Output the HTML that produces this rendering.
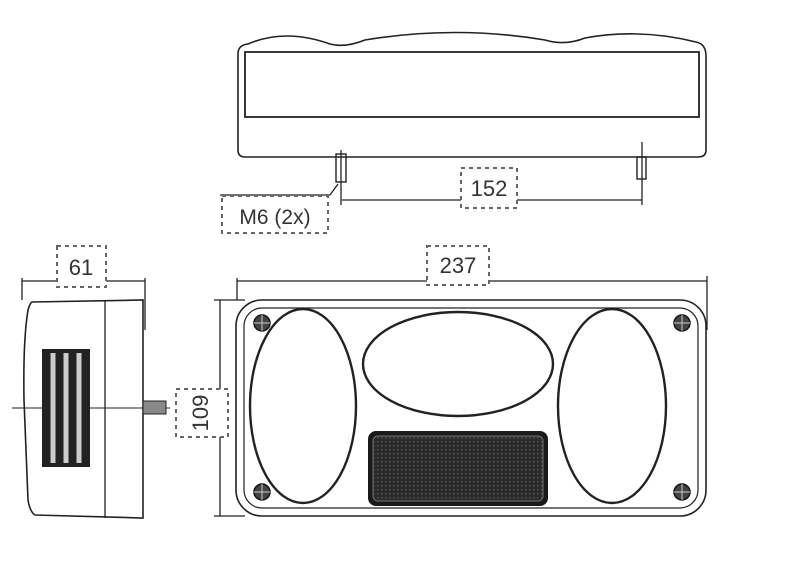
<!DOCTYPE html>
<html><head><style>
html,body{margin:0;padding:0;background:#fff;}
svg{display:block;}
text{font-family:"Liberation Sans",sans-serif;fill:#333;}
</style></head><body>
<svg width="800" height="581" viewBox="0 0 800 581" xmlns="http://www.w3.org/2000/svg">
<defs>
<pattern id="dots" width="4" height="4" patternUnits="userSpaceOnUse">
<rect width="4" height="4" fill="#2a2a2a"/><rect x="1" y="1" width="1.5" height="1.5" fill="#555"/>
</pattern>
</defs>
<g fill="none" stroke="#222" stroke-width="1.3">
<!-- TOP VIEW -->
<path d="M238 150 L238 54 Q238 45 248 44 Q285 28 330 44 Q345 48 365 40 Q455 25 545 40 Q565 46 585 38 Q640 28 696 42 Q706 44 706 56 L706 150 Q706 157 698 157 L245 157 Q238 157 238 150 Z" stroke-width="1.6"/>
<rect x="245" y="52" width="454" height="65" stroke-width="1.8"/>
<rect x="336" y="154" width="10" height="28" stroke-width="1.4"/>
<line x1="341" y1="150" x2="341" y2="205"/>
<rect x="637" y="157" width="9" height="22" stroke-width="1.4"/>
<line x1="642" y1="142" x2="642" y2="205"/>
<line x1="342" y1="200" x2="642" y2="200"/>
<path d="M338 184 L330 195 L220 195"/>
<!-- SIDE VIEW -->
<line x1="22" y1="281" x2="145" y2="281"/>
<line x1="22" y1="278" x2="22" y2="300"/>
<line x1="145" y1="278" x2="145" y2="330"/>
<path d="M32 302 L143 300 L143 518 L35 515 Q30 512 28 500 L24 400 Q23 340 28 310 Q30 303 32 302 Z" stroke-width="1.6"/>
<line x1="105" y1="300" x2="105" y2="518"/>
<line x1="12" y1="408" x2="170" y2="408" stroke-width="1"/>
<rect x="143" y="401" width="23" height="13" fill="#888" stroke-width="1"/>
<!-- FRONT VIEW -->
<line x1="237" y1="281" x2="707" y2="281"/>
<line x1="237" y1="278" x2="237" y2="300"/>
<line x1="707" y1="276" x2="707" y2="330"/>
<line x1="220" y1="300" x2="220" y2="516"/>
<line x1="214" y1="300" x2="245" y2="300"/>
<line x1="214" y1="516" x2="245" y2="516"/>
<rect x="236" y="300" width="470" height="216" rx="26" stroke-width="1.6"/>
<rect x="244" y="308" width="454" height="200" rx="18" stroke-width="1.2"/>
<ellipse cx="303" cy="406" rx="53" ry="97" stroke-width="2.4"/>
<ellipse cx="612" cy="406" rx="54" ry="97" stroke-width="2.4"/>
<ellipse cx="458" cy="364" rx="95" ry="52" stroke-width="2.4"/>
</g>
<rect x="42" y="349" width="48" height="118" fill="#222"/>
<g stroke="#ccc" stroke-width="5"><line x1="53" y1="353" x2="53" y2="463"/><line x1="66" y1="353" x2="66" y2="463"/><line x1="79" y1="353" x2="79" y2="463"/></g>
<rect x="368" y="431" width="180" height="75" rx="8" fill="#1a1a1a"/>
<rect x="373" y="436" width="170" height="65" rx="5" fill="url(#dots)" stroke="#666" stroke-width="1.2"/>
<g fill="#444" stroke="#111" stroke-width="1.5">
<circle cx="262" cy="323" r="8"/><circle cx="262" cy="492" r="8"/><circle cx="682" cy="323" r="8"/><circle cx="682" cy="492" r="8"/>
</g>
<g stroke="#ccc" stroke-width="1">
<path d="M254 323h16M262 315v16M254 492h16M262 484v16M674 323h16M682 315v16M674 492h16M682 484v16"/>
</g>
<g fill="#fff" stroke="#666" stroke-width="2" stroke-dasharray="4,4">
<rect x="461" y="168" width="56" height="40"/>
<rect x="222" y="196" width="106" height="37"/>
<rect x="57" y="246" width="49" height="41"/>
<rect x="427" y="246" width="62" height="39"/>
<rect x="176" y="389" width="52" height="48"/>
</g>
<text x="489" y="196" font-size="22" text-anchor="middle">152</text>
<text x="275" y="224" font-size="21" text-anchor="middle">M6 (2x)</text>
<text x="81" y="275" font-size="22" text-anchor="middle">61</text>
<text x="458" y="273" font-size="22" text-anchor="middle">237</text>
<text transform="translate(202,413) rotate(-90)" font-size="22" text-anchor="middle" dominant-baseline="middle">109</text>
</svg>
</body></html>
